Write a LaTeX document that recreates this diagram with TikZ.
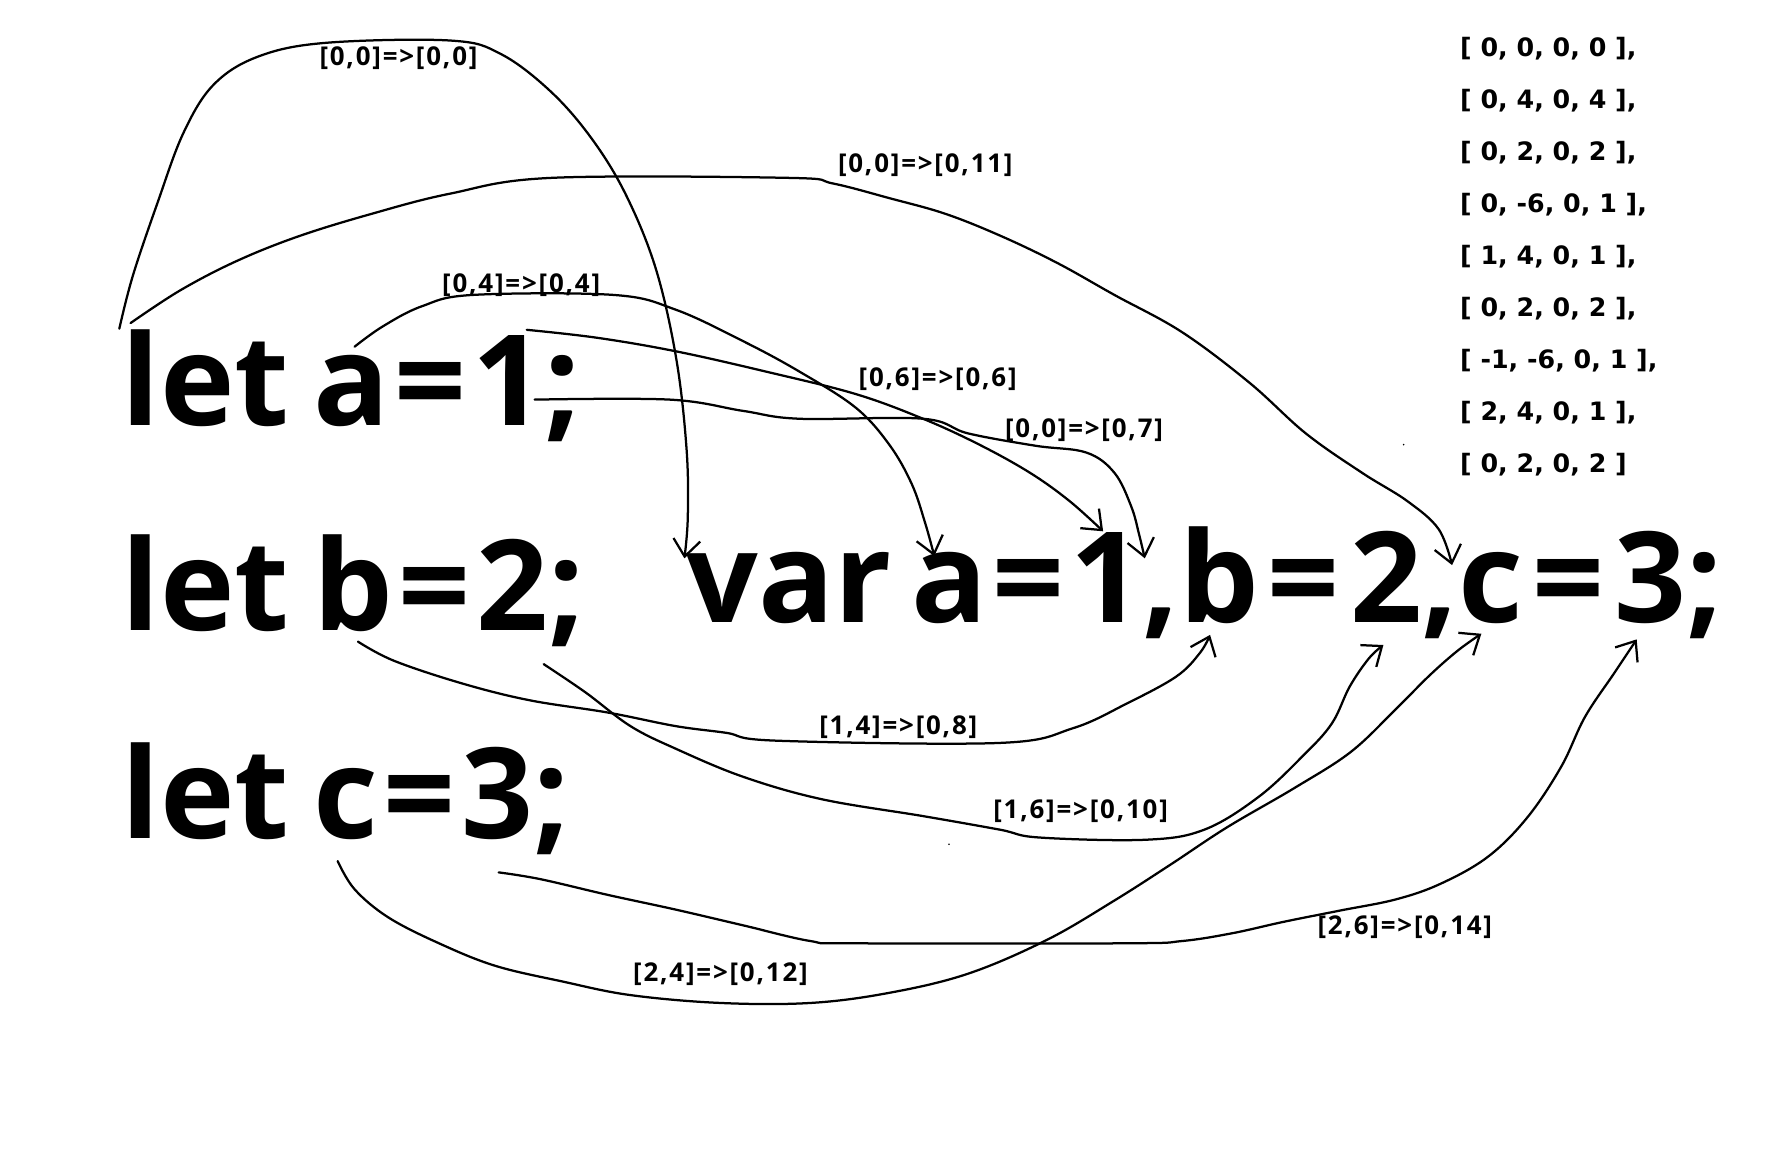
\documentclass[tikz,border=0pt]{standalone}
\usepackage{fontspec}
\usetikzlibrary{arrows.meta}
\newfontfamily\codefont{Open Sans}
\newfontfamily\lblfont{Open Sans}[LetterSpace=7]
\newfontfamily\matfont{DejaVu Sans}
\newcommand\myeq{\kern5pt=\kern5pt}
\newcommand\wideeq{\kern8pt=\kern9pt}
\begin{document}
\begin{tikzpicture}[x=1pt,y=-1pt,
  big/.style={anchor=base west, inner sep=0pt, font=\codefont\bfseries\fontsize{112}{120}\selectfont},
  lbl/.style={inner sep=0pt, font=\lblfont\bfseries\fontsize{23}{25}\selectfont},
  matrow/.style={anchor=base west, inner sep=0pt, font=\matfont\bfseries\fontsize{22.5}{24}\selectfont},
  link/.style={line width=2pt, line join=round, line cap=round,
    -{Straight Barb[length=15pt,width=24pt,line width=2pt]}}
]
\useasboundingbox (0,0) rectangle (1568,1037);
\fill[white] (0,0) rectangle (1568,1037);

% code lines
\node[big] (la) at (108,378) {let\kern-8pt{} a\myeq 1;};
\node[big] (lb) at (108,560) {let\kern-8pt{} b\myeq 2;};
\node[big] (lc) at (108,745) {let\kern-8pt{} c\myeq 3;};
\node[big] (va) at (610,553) {var\kern-12pt{} a\myeq 1,b\wideeq 2,c\wideeq 3;};

% mapping matrix
\node[matrow] (m1) at (1297,50.0)  {[ 0, 0, 0, 0 ],};
\node[matrow] (m2) at (1297,96.2)  {[ 0, 4, 0, 4 ],};
\node[matrow] (m3) at (1297,142.4) {[ 0, 2, 0, 2 ],};
\node[matrow] (m4) at (1297,188.6) {[ 0, -6, 0, 1 ],};
\node[matrow] (m5) at (1297,234.8) {[ 1, 4, 0, 1 ],};
\node[matrow] (m6) at (1297,281.0) {[ 0, 2, 0, 2 ],};
\node[matrow] (m7) at (1297,327.2) {[ -1, -6, 0, 1 ],};
\node[matrow] (m8) at (1297,373.4) {[ 2, 4, 0, 1 ],};
\node[matrow] (m9) at (1297,419.6) {[ 0, 2, 0, 2 ]};

% labels
\node[lbl] (l00)  at (354,52)  {[0,0]=>[0,0]};
\node[lbl] (l011) at (822,147) {[0,0]=>[0,11]};
\node[lbl] (l04)  at (463,253) {[0,4]=>[0,4]};
\node[lbl] (l06)  at (833,337) {[0,6]=>[0,6]};
\node[lbl] (l07)  at (963,382) {[0,0]=>[0,7]};
\node[lbl] (l08)  at (798,646) {[1,4]=>[0,8]};
\node[lbl] (l10)  at (960,721) {[1,6]=>[0,10]};
\node[lbl] (l12)  at (640,865) {[2,4]=>[0,12]};
\node[lbl] (l14)  at (1248,824) {[2,6]=>[0,14]};

% connector ends
\coordinate (s00) at (106,292);  \coordinate (e00) at (608,496);
\coordinate (s011) at (116,287); \coordinate (e011) at (1290,502);
\coordinate (s04) at (315,308);  \coordinate (e04) at (830,494);
\coordinate (s06) at (468,293);  \coordinate (e06) at (980,472);
\coordinate (s07) at (475,355);  \coordinate (e07) at (1017,496);
\coordinate (s08) at (318,570);  \coordinate (e08) at (1075,564);
\coordinate (s10) at (483,590);  \coordinate (e10) at (1229,573);
\coordinate (s12) at (300,765);  \coordinate (e12) at (1316,563);
\coordinate (s14) at (443,775);  \coordinate (e14) at (1454,568);

\draw[link] plot[smooth, tension=0.6] coordinates {(s00) (118,245) (140,180) (163,118) (190,75) (230,50) (290,38) (400,36) (445,48) (490,82) (527,125) (557,175) (583,240) (601,320) (610,400) (611,460) (e00)};
\draw[link] plot[smooth, tension=0.6] coordinates {(s011) (160,258) (210,232) (265,210) (330,190) (400,172) (490,158) (700,158) (740,163) (790,176) (840,190) (890,210) (940,234) (990,262) (1050,295) (1110,340) (1160,385) (1210,420) (1250,445) (1278,470) (e011)};
\draw[link] plot[smooth, tension=0.6] coordinates {(s04) (340,290) (375,272) (420,262) (545,262) (600,275) (660,303) (710,330) (760,362) (790,395) (810,430) (822,465) (e04)};
\draw[link] plot[smooth, tension=0.6] coordinates {(s06) (530,300) (600,312) (680,330) (760,350) (820,372) (870,395) (915,420) (950,445) (e06)};
\draw[link] plot[smooth, tension=0.6] coordinates {(s07) (595,355) (660,365) (710,372) (820,372) (860,385) (920,396) (965,402) (990,420) (1005,450) (1012,475) (e07)};
\draw[link] plot[smooth, tension=0.6] coordinates {(s08) (350,587) (410,607) (470,622) (540,633) (600,645) (645,651) (690,658) (888,660) (953,647) (1001,625) (1045,601) (1066,580) (e08)};
\draw[link] plot[smooth, tension=0.6] coordinates {(s10) (520,615) (560,645) (600,665) (660,690) (730,710) (820,725) (888,737) (923,744) (1018,746) (1070,737) (1118,708) (1157,672) (1183,643) (1199,610) (1216,585) (e10)};
\draw[link] plot[smooth, tension=0.6] coordinates {(s12) (315,790) (345,815) (390,838) (440,858) (500,872) (560,884) (640,891) (720,891) (790,882) (860,865) (930,835) (990,800) (1040,768) (1090,735) (1150,700) (1200,668) (1240,630) (1270,600) (1295,578) (e12)};
\draw[link] plot[smooth, tension=0.6] coordinates {(s14) (480,781) (540,795) (600,808) (660,822) (720,836) (760,838) (1000,838) (1050,836) (1095,829) (1140,819) (1190,809) (1240,799) (1280,785) (1322,761) (1357,726) (1387,681) (1408,637) (1434,598) (e14)};

% stray specks
\fill (1247,395) circle (0.8);
\fill (843,750) circle (0.8);
\end{tikzpicture}
\end{document}
